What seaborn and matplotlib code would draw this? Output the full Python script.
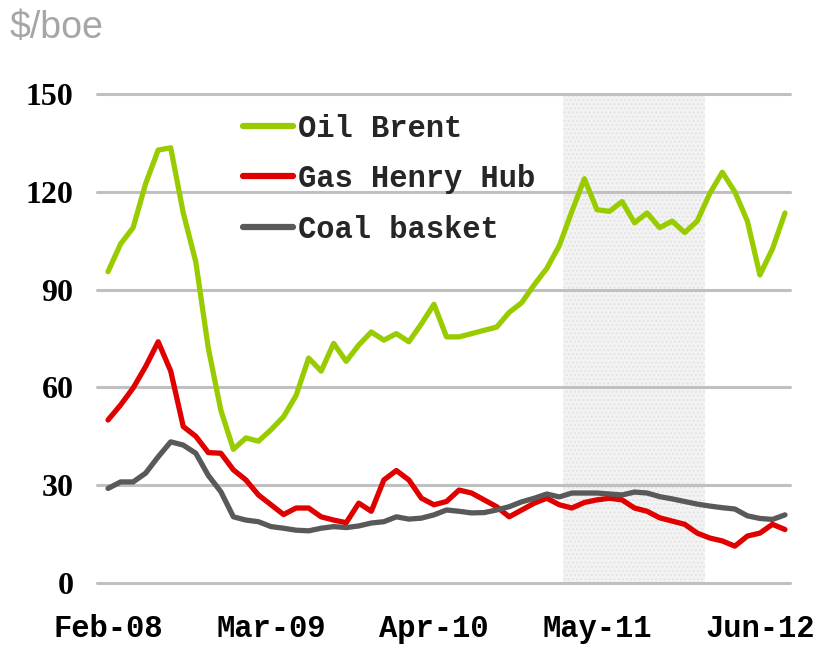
import matplotlib
matplotlib.use("Agg")
import matplotlib.pyplot as plt
import seaborn as sns
import pandas as pd

# Monthly prices, Feb-08 .. Aug-12 ($/boe)
months = pd.date_range("2008-02-01", "2012-08-01", freq="MS").strftime("%b-%y").tolist()

oil_brent = [95.5, 104, 109, 122.5, 132.8, 133.5, 113.5, 98.5, 72, 53,
             41, 44.5, 43.5, 47, 51, 57.5, 69, 65, 73.5, 68,
             73, 77, 74.5, 76.5, 74, 79.5, 85.5, 75.5, 75.5, 76.5,
             77.5, 78.5, 83, 86, 91.5, 96.5, 103.5, 114, 124, 114.5,
             114, 117, 110.5, 113.5, 109, 111, 107.5, 111, 119.5, 126,
             120, 111, 94.5, 102.5, 113.5]

gas_henry_hub = [50, 54.6, 59.8, 66.4, 74, 65, 48, 45, 40, 39.8,
                 34.7, 31.6, 27, 24, 21, 23, 23, 20.3, 19.3, 18.5,
                 24.5, 22, 31.6, 34.5, 31.6, 26, 24, 25, 28.5, 27.6,
                 25.5, 23.4, 20.3, 22.4, 24.5, 26, 24, 23, 24.7, 25.5,
                 26, 25.5, 23, 22, 20, 19, 18, 15.3, 13.8, 12.9,
                 11.3, 14.4, 15.3, 18, 16.4]

coal_basket = [29, 31, 31, 33.7, 38.7, 43.3, 42.3, 39.8, 33, 28,
               20.3, 19.3, 18.8, 17.3, 16.8, 16.2, 16, 16.8, 17.3, 17,
               17.5, 18.4, 18.8, 20.3, 19.6, 19.9, 20.9, 22.4, 22, 21.5,
               21.6, 22.4, 23.4, 24.9, 26, 27.3, 26.4, 27.6, 27.6, 27.6,
               27.3, 27, 27.9, 27.6, 26.5, 25.8, 25, 24.2, 23.6, 23.1,
               22.7, 20.6, 19.8, 19.5, 20.9]

series_names = ["Oil Brent", "Gas Henry Hub", "Coal basket"]
x_tick_labels = ["Feb-08", "Mar-09", "Apr-10", "May-11", "Jun-12"]
y_ticks = [0, 30, 60, 90, 120, 150]
# highlighted period (month index)
shade_start, shade_end = 36.3, 47.6

idx = list(range(len(months)))
df = pd.DataFrame({
    "idx": idx * 3,
    "value": oil_brent + gas_henry_hub + coal_basket,
    "Series": [s for s in series_names for _ in idx],
})

sns.set_theme(style="white")
plt.rcParams["font.family"] = ["Liberation Mono", "DejaVu Sans"]

fig = plt.figure(figsize=(8.18, 6.48), dpi=100)
ax = fig.add_axes([97 / 818, 65 / 648, 693 / 818, 489 / 648])

ax.axvspan(shade_start, shade_end, facecolor="#f3f3f3", edgecolor="#e4e4e4",
           hatch="....", linewidth=0, zorder=0)

palette = {"Oil Brent": "#99cc00", "Gas Henry Hub": "#e00000", "Coal basket": "#595959"}
sns.lineplot(data=df, x="idx", y="value", hue="Series", palette=palette,
             linewidth=3.8, ax=ax, zorder=3)

ax.set_xlim(-0.88, 54.4)
ax.set_ylim(0, 150)
ax.set_yticks(y_ticks)
ax.set_xticks([months.index(m) for m in x_tick_labels])
ax.set_xticklabels(x_tick_labels)
ax.set_xlabel("")
ax.set_ylabel("")
ax.tick_params(axis="both", length=0, colors="black")
ax.tick_params(axis="y", pad=17)
ax.tick_params(axis="x", pad=22)
for lbl in ax.get_xticklabels():
    lbl.set_fontsize(22)
    lbl.set_fontweight("bold")
for lbl in ax.get_yticklabels():
    lbl.set_family(["Liberation Serif", "DejaVu Sans"])
    lbl.set_fontsize(23)
    lbl.set_fontweight("bold")

for s in ax.spines.values():
    s.set_visible(False)
ax.grid(axis="y", color="#c0c0c0", linewidth=2.2)
ax.set_axisbelow(True)
for gl in ax.get_ygridlines():
    gl.set_clip_on(False)

leg = ax.legend(loc="upper left", bbox_to_anchor=(0.211, 0.96), frameon=False,
                prop={"size": 22, "weight": "bold"}, handlelength=1.64,
                handletextpad=0.16, labelspacing=0.67, borderpad=0, borderaxespad=0)
for h in leg.get_lines():
    h.set_linewidth(4.5)

fig.text(0.012, 1 - 10 / 648, "$/boe", fontsize=27, color="#a6a6a6",
         family="Liberation Sans", va="top", ha="left")

fig.savefig("out.png", dpi=100)
